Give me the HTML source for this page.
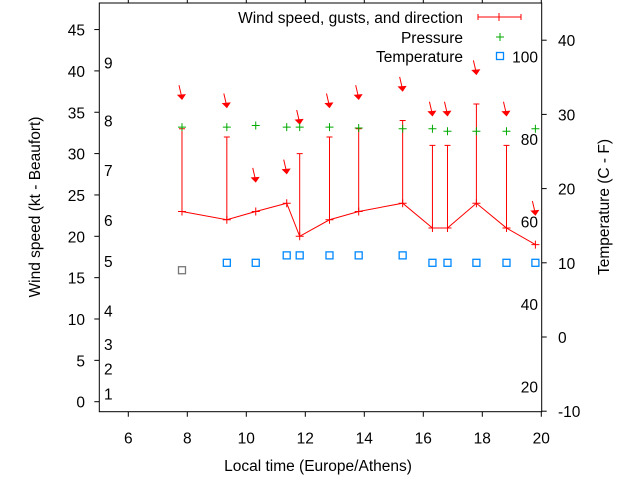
<!DOCTYPE html>
<html><head><meta charset="utf-8"><style>
body{margin:0;background:#fff}
svg{display:block;font-family:"Liberation Sans",sans-serif;font-size:15.5px}
</style></head><body>
<svg id="c" width="640" height="480"></svg>
<script>
const hours=[7.82,9.34,10.32,11.37,11.81,12.82,13.81,15.3,16.31,16.82,17.8,18.82,19.8];
const windKt=[23,22,23,24,20,22,23,24,21,21,24,21,19];
const gustKt=[33,32,null,null,30,32,33,34,31,31,36,31,null];
const pressureScaled=[33.2,33.2,33.4,33.2,33.2,33.2,33.1,33.0,33.0,32.7,32.7,32.7,33.0];
const tempC=[9,10,10,11,11,11,11,11,10,10,10,10,10];
const xTicks=[6,8,10,12,14,16,18,20];
const yTicks=[0,5,10,15,20,25,30,35,40,45];
const beaufort=[1,2,3,4,5,6,7,8,9];
const beaufortKt=[1,4,7,11,17,22,28,34,41];
const cTicks=[-10,0,10,20,30,40];
const fTicks=[20,40,60,80,100];
const L=99.3,R=541.7,T=3,B=411.7;
const X=h=>98.8+(h-5)*29.5;
const Y=v=>401.7-v*8.27;
const YC=c=>337-c*7.42;
const svg=document.getElementById('c');
const NS='http://www.w3.org/2000/svg';
function mk(t,a,p){const e=document.createElementNS(NS,t);for(const k in a)e.setAttribute(k,a[k]);(p||svg).appendChild(e);return e;}
function txt(s,x,y,anchor,name){const e=mk('text',{x:x,y:y,'text-anchor':anchor||'start'});e.textContent=s;return e;}
const frame=mk('rect',{x:L,y:T,width:R-L,height:B-T,fill:'none',stroke:'#000','stroke-width':1});


xTicks.forEach(h=>{const x=X(h);
 const t=mk('path',{d:`M${x},${B}V${B+5}M${x},${T}V${T-3}`,stroke:'#000'});
 
 
 txt(String(h),x,B+32,'middle','x-tick-label');});
yTicks.forEach(v=>{const y=Y(v);
 const t=mk('path',{d:`M${L-5},${y}H${L}`,stroke:'#000'});
 
 
 txt(String(v),85,y+6,'end','y-tick-label');});
beaufort.forEach((b,i)=>{txt(String(b),104,Y(beaufortKt[i])+6,'start','beaufort-label');});
cTicks.forEach(c=>{const y=YC(c);
 const t=mk('path',{d:`M${R},${y}H${R+5}`,stroke:'#000'});
 
 
 txt(String(c),558,y+6,'start','y2-tick-label');});
fTicks.forEach(f=>{txt(String(f),538,YC((f-32)*5/9)+6,'end','fahrenheit-label');});
txt('Local time (Europe/Athens)',318,471,'middle','x-axis-title');
const yt=txt('Wind speed (kt - Beaufort)',0,0,'middle','y-axis-title');yt.setAttribute('transform','translate(40,207) rotate(-90)');
const y2=txt('Temperature (C - F)',0,0,'middle','y2-axis-title');y2.setAttribute('transform','translate(609,207) rotate(-90)');
hours.forEach((h,i)=>{if(gustKt[i]==null)return;const x=X(h);
 const g=mk('path',{d:`M${x},${Y(windKt[i])}V${Y(gustKt[i])}M${x-3},${Y(gustKt[i])}H${x+3}`,stroke:'#f00'});
 
 });
const wl=mk('polyline',{points:hours.map((h,i)=>X(h)+','+Y(windKt[i])).join(' '),fill:'none',stroke:'#f00'});


hours.forEach((h,i)=>{const x=X(h),y=Y(windKt[i]);
 const p=mk('path',{d:`M${x-4},${y}H${x+4}M${x},${y-4}V${y+4}`,stroke:'#f00'});
 
 
 const top=Math.max(windKt[i],gustKt[i]||0)+3.7;const ay=Y(top);
 const a=mk('g',{});
 
 
 mk('path',{d:`M${x-3},${ay-13}L${x},${ay}`,stroke:'#f00','stroke-width':1},a);
 mk('path',{d:`M${x-4},${ay-3}L${x+3},${ay-3.5}L${x},${ay+1}Z`,fill:'#f00',stroke:'#f00'},a);});
hours.forEach((h,i)=>{const x=X(h),y=Y(pressureScaled[i]);
 const p=mk('path',{d:`M${x-4},${y}H${x+4}M${x},${y-4}V${y+4}`,stroke:'#0a0'});
 
 });
hours.forEach((h,i)=>{const x=X(h),y=YC(tempC[i]);
 const p=mk('rect',{x:x-3.5,y:y-3.5,width:7,height:7,fill:'none',stroke:i==0?'#777':'#08f','stroke-width':1.3});
 
 });
txt('Wind speed, gusts, and direction',463,23,'end','legend-wind-label');
const lw=mk('path',{d:'M478,17H521M478,14V20M521,14V20M499,13V21',stroke:'#f00'});


txt('Pressure',463,43,'end','legend-pressure-label');
const lp=mk('path',{d:'M496,37H504M500,33V41',stroke:'#0a0'});


txt('Temperature',463,62,'end','legend-temperature-label');
const lt=mk('rect',{x:496.5,y:52.5,width:7,height:7,fill:'none',stroke:'#08f','stroke-width':1.3});


</script>
</body></html>
